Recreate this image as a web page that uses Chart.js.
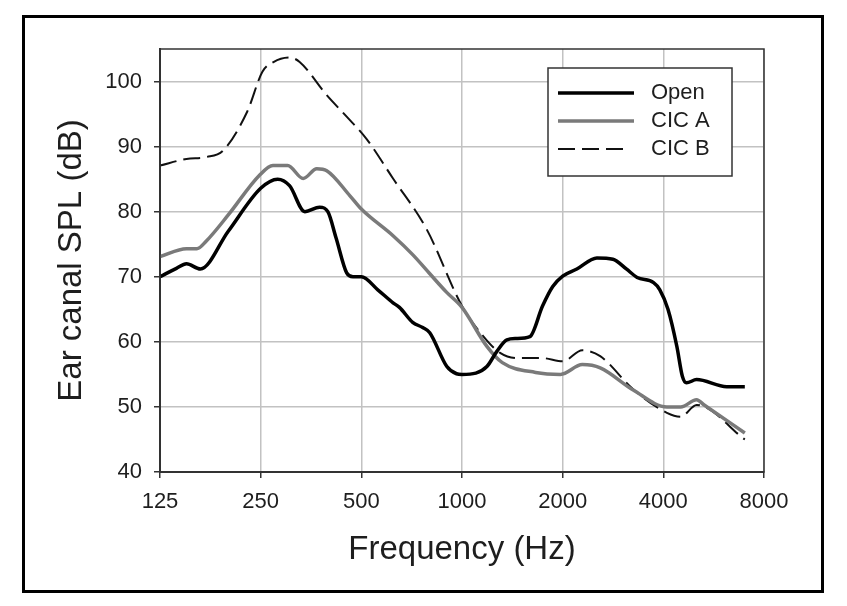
<!DOCTYPE html>
<html>
<head>
<meta charset="utf-8">
<script src="https://cdn.jsdelivr.net/npm/chart.js@4/dist/chart.umd.min.js"></script>
<style>
  html, body { margin: 0; padding: 0; background: #fff; }
  #wrap { position: relative; width: 847px; height: 606px; }
  #chart { position: absolute; left: 0; top: 0; }
  #frame {
    position: absolute; left: 22px; top: 15px; width: 802px; height: 578px;
    box-sizing: border-box; border: 3px solid #000; pointer-events: none;
  }
</style>
</head>
<body>
<div id="wrap">
  <canvas id="chart" width="847" height="606"></canvas>
  <div id="frame"></div>
</div>
<script>
const xTicks = [125, 250, 500, 1000, 2000, 4000, 8000];
const yTicks = [40, 50, 60, 70, 80, 90, 100];

const openFreq = [125, 140, 150, 165, 200, 250, 281, 305, 339, 375, 397, 420, 452, 472, 500, 560, 622, 650, 712, 763, 801, 901, 963, 1000, 1100, 1187, 1270, 1362, 1450, 1596, 1741, 1868, 2000, 2205, 2532, 2826, 3100, 3340, 3740, 3905, 4130, 4390, 4560, 4690, 5030, 6190, 7010];
const openDb = [70, 71.3, 72, 71.2, 77, 83.6, 85, 84, 80, 80.7, 80, 76, 70.6, 70, 70, 68, 66, 65.3, 63, 62.2, 61.4, 56.2, 55.1, 55, 55.2, 56.2, 58.5, 60.3, 60.5, 60.8, 65.5, 68.5, 70.1, 71.2, 72.9, 72.7, 71.2, 69.9, 69.1, 68, 65, 59.3, 54.7, 53.7, 54.2, 53.1, 53.1];

const cicAFreq = [125, 150, 161, 172, 200, 248, 272, 301, 335, 368, 394, 463, 500, 622, 712, 800, 900, 1000, 1187, 1320, 1660, 1970, 2290, 2590, 3250, 4100, 4510, 5030, 5300, 7010];
const cicADb = [73.1, 74.3, 74.3, 75.5, 79.5, 85.6, 87.1, 87.1, 85.1, 86.6, 86.3, 82.4, 80.4, 76.3, 73.4, 70.5, 67.6, 65.3, 59.3, 56.8, 55.3, 55, 56.5, 56, 52.6, 50, 50, 51.1, 50.3, 46];

const cicBFreq = [125, 150, 172, 193, 228, 253, 273, 305, 327, 394, 452, 518, 622, 784, 1000, 1160, 1300, 1460, 1740, 2000, 2290, 2590, 3250, 4100, 4510, 5030, 7010];
const cicBDb = [87.1, 88.1, 88.4, 89.4, 95.4, 101.5, 103, 103.7, 103, 97.9, 94.6, 91.2, 85.1, 77.3, 65.5, 60.8, 58.3, 57.5, 57.5, 57, 58.7, 57.8, 52.7, 49.1, 48.5, 50.3, 45];

const FONT = "'Liberation Sans', Arial, sans-serif";
const TEXT = "#1e1e1e";

function pts(fs, ds) {
  return fs.map((f, i) => ({ x: f, y: ds[i] }));
}

const series = [
  { label: "Open", data: pts(openFreq, openDb), borderColor: "#000", borderWidth: 3.5, borderDash: [] },
  { label: "CIC A", data: pts(cicAFreq, cicADb), borderColor: "#7a7a7a", borderWidth: 3.5, borderDash: [] },
  { label: "CIC B", data: pts(cicBFreq, cicBDb), borderColor: "#111", borderWidth: 2, borderDash: [17, 7] },
];

const frameAndLegend = {
  id: "frameAndLegend",
  afterDraw(chart) {
    const { ctx, chartArea: a } = chart;
    ctx.save();
    ctx.strokeStyle = "#333";
    ctx.lineWidth = 1.5;
    ctx.strokeRect(a.left, a.top, a.right - a.left, a.bottom - a.top);

    // legend box
    const bx = 548, by = 68, bw = 184, bh = 108;
    ctx.fillStyle = "#fff";
    ctx.fillRect(bx, by, bw, bh);
    ctx.strokeStyle = "#333";
    ctx.lineWidth = 1.5;
    ctx.strokeRect(bx, by, bw, bh);
    series.forEach((s, i) => {
      const y = 93 + i * 28;
      ctx.beginPath();
      ctx.strokeStyle = s.borderColor;
      ctx.lineWidth = s.borderWidth;
      ctx.setLineDash(s.borderDash);
      ctx.moveTo(558, y);
      ctx.lineTo(i === 2 ? 624 : 634, y);
      ctx.stroke();
      ctx.setLineDash([]);
      ctx.fillStyle = TEXT;
      ctx.font = "22px " + FONT;
      ctx.textBaseline = "middle";
      ctx.textAlign = "left";
      ctx.fillText(s.label, 651, y);
    });
    ctx.restore();
  },
};

new Chart(document.getElementById("chart"), {
  type: "line",
  data: {
    datasets: series.map((s) => ({
      label: s.label,
      data: s.data,
      borderColor: s.borderColor,
      borderWidth: s.borderWidth,
      borderDash: s.borderDash,
      pointRadius: 0,
      fill: false,
      cubicInterpolationMode: "monotone",
    })),
  },
  options: {
    responsive: false,
    animation: false,
    parsing: false,
    layout: { padding: { top: 49, right: 83, left: 0, bottom: 0 } },
    plugins: { legend: { display: false }, tooltip: { enabled: false } },
    scales: {
      x: {
        type: "logarithmic",
        min: 125,
        max: 8000,
        afterBuildTicks: (scale) => { scale.ticks = xTicks.map((v) => ({ value: v })); },
        afterFit: (scale) => { scale.height = 134; },
        ticks: {
          callback: (v) => String(v),
          autoSkip: false,
          maxRotation: 0,
          padding: 11,
          color: TEXT,
          font: { family: FONT, size: 22 },
        },
        grid: { color: "#c2c2c2", lineWidth: 1.5, tickColor: "#333", tickLength: 6 },
        border: { color: "#333", width: 2 },
        title: {
          display: true,
          text: "Frequency (Hz)",
          color: TEXT,
          font: { family: FONT, size: 33 },
          padding: { top: 0, bottom: 36 },
        },
      },
      y: {
        min: 40,
        max: 105,
        afterBuildTicks: (scale) => { scale.ticks = yTicks.map((v) => ({ value: v })); },
        afterFit: (scale) => { scale.width = 160; },
        ticks: {
          padding: 12,
          color: TEXT,
          font: { family: FONT, size: 22 },
        },
        grid: { color: "#c2c2c2", lineWidth: 1.5, tickColor: "#333", tickLength: 6 },
        border: { color: "#333", width: 2 },
        title: {
          display: true,
          text: "Ear canal SPL (dB)",
          color: TEXT,
          font: { family: FONT, size: 33 },
          padding: { top: 52, bottom: 0 },
        },
      },
    },
  },
  plugins: [frameAndLegend],
});
</script>
</body>
</html>
